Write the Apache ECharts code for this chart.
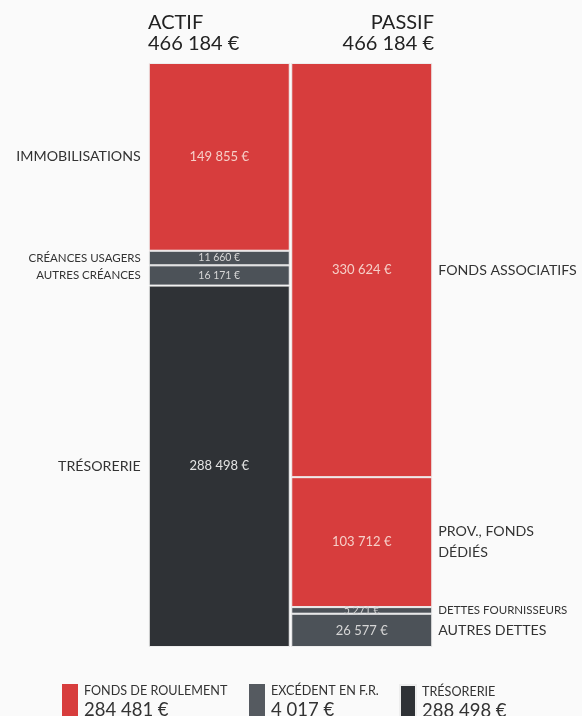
<!DOCTYPE html>
<html><head><meta charset="utf-8">
<script src="https://cdn.jsdelivr.net/npm/echarts@6/dist/echarts.min.js"></script>
<style>html,body{margin:0;padding:0;background:#fafafa;}#c{width:582px;height:716px;}</style>
</head><body><div id="c"></div>
<script>
const columns = ['ACTIF', 'PASSIF'];
const totals = [466184, 466184];
const actifNames = ['IMMOBILISATIONS', 'CRÉANCES USAGERS', 'AUTRES CRÉANCES', 'TRÉSORERIE'];
const actifValues = [149855, 11660, 16171, 288498];
const actifKinds = ['red', 'gray', 'gray', 'dark'];
const passifNames = ['FONDS ASSOCIATIFS', 'PROV., FONDS\nDÉDIÉS', 'DETTES FOURNISSEURS', 'AUTRES DETTES'];
const passifValues = [330624, 103712, 5271, 26577];
const passifKinds = ['red', 'red', 'gray', 'gray'];
const legendNames = ['FONDS DE ROULEMENT', 'EXCÉDENT EN F.R.', 'TRÉSORERIE'];
const legendValues = [284481, 4017, 288498];

const colors = { red: '#d73d3d', gray: '#4c5258', dark: '#2f3236' };
const labelColors = { red: '#f6cfc8', gray: '#d6d6d6', dark: '#e4e4e4' };
const smallNames = ['CRÉANCES USAGERS', 'AUTRES CRÉANCES', 'DETTES FOURNISSEURS'];
const fmt = v => v.toString().replace(/\B(?=(\d{3})+(?!\d))/g, ' ') + ' €';
const FONT = 'Lato, "Open Sans", sans-serif';

const series = [];
function addCol(names, values, kinds, col) {
  names.forEach((n, i) => {
    const data = ['-', '-'];
    data[col] = values[i];
    const small = values[i] < 20000;
    series.push({
      type: 'bar', stack: 'main', name: n, barWidth: 141, barGap: '-100%',
      data: data,
      itemStyle: { color: colors[kinds[i]], borderColor: '#eeeeee', borderWidth: 1 },
      label: { show: true, position: 'inside', color: labelColors[kinds[i]],
        fontFamily: FONT, fontSize: small ? 10.5 : 13,
        formatter: p => fmt(p.value) },
      silent: true
    });
    series.push({
      type: 'bar', stack: 'names', name: n + ' ', barWidth: 141, barGap: '-100%',
      data: data,
      itemStyle: { color: 'rgba(0,0,0,0)' },
      label: { show: true, position: col === 0 ? 'left' : 'right', distance: col === 0 ? 8 : 6,
        color: '#333', fontFamily: FONT,
        fontSize: smallNames.includes(n) ? 11.5 : 14.2, lineHeight: 21,
        align: col === 0 ? 'right' : 'left',
        formatter: () => n },
      silent: true, z: 5
    });
  });
}
addCol(actifNames, actifValues, actifKinds, 0);
addCol(passifNames, passifValues, passifKinds, 1);

const legendColors = [colors.red, '#555a60', colors.dark];
const legends = [];
legendNames.forEach((n, i) => {
  series.push({ type: 'scatter', name: n, data: [], itemStyle: { color: legendColors[i], opacity: 1 } });
  legends.push({
    data: [n], left: [62, 249, 399][i], top: 684, padding: 0, itemWidth: 16, itemHeight: 36,
    itemGap: 0, selectedMode: false, icon: 'rect',
    itemStyle: { opacity: 1 },
    formatter: name => '{a|' + name + '}\n{b|' + fmt(legendValues[i]) + '}',
    textStyle: { padding: [0, 0, 0, 1], rich: {
      a: { fontFamily: FONT, fontSize: 12.6, color: '#333', lineHeight: 16 },
      b: { fontFamily: FONT, fontSize: 18.5, color: '#333', lineHeight: 22 }
    } }
  });
});

const headStyle = { fontFamily: FONT, fontSize: 20, fontWeight: 'normal', color: '#222' };
const chart = echarts.init(document.getElementById('c'));
chart.setOption({
  animation: false,
  backgroundColor: '#fafafa',
  title: [
    { text: columns[0], left: 148, top: 13, padding: 0, textStyle: headStyle },
    { text: fmt(totals[0]), left: 148, top: 34, padding: 0, textStyle: headStyle },
    { text: columns[1], right: 148, top: 13, padding: 0, textStyle: headStyle },
    { text: fmt(totals[1]), right: 148, top: 34, padding: 0, textStyle: headStyle }
  ],
  legend: legends,
  grid: { left: 148, right: 149, top: 63, bottom: 69 },
  xAxis: { type: 'category', data: columns, show: false },
  yAxis: { type: 'value', inverse: true, min: 0, max: totals[0], show: false },
  series: series
});
</script></body></html>
